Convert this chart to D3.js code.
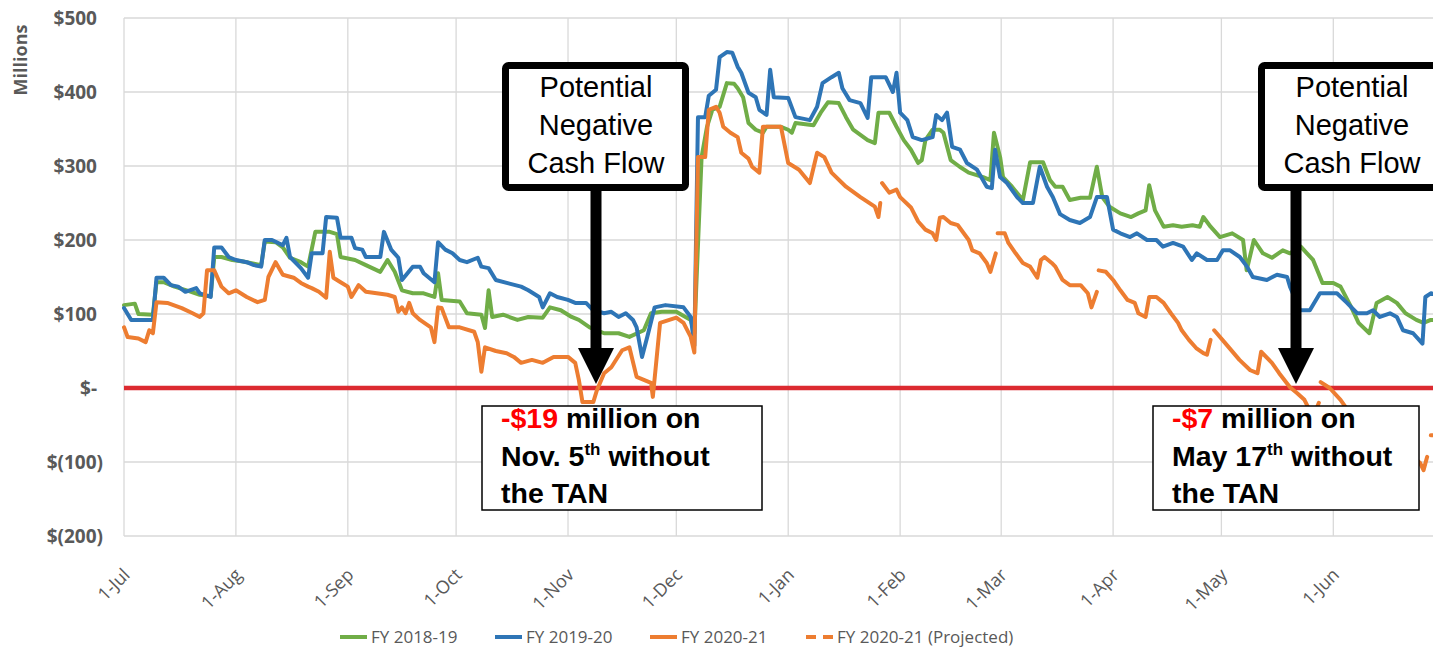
<!DOCTYPE html>
<html><head><meta charset="utf-8">
<script src="https://cdn.jsdelivr.net/npm/d3@7"></script>
<style>body{margin:0;background:#fff}svg{display:block}</style>
</head><body>
<svg id="c" width="1433" height="653"></svg>
<script>
// ---- data: [days since 1-Jul, $ millions] ----
const yTicks = [-200,-100,0,100,200,300,400,500];
const seriesNames = ["FY 2018-19","FY 2019-20","FY 2020-21","FY 2020-21 (Projected)"];
const fy1819 = [[0,112],[3,114],[4,100],[8,99],[9,143],[11,143],[14,137],[18,131],[21,126],[24,124],[25,177],[27,177],[30,173],[33,171],[36,168],[38,166],[39,198],[42,197],[44,190],[46,176],[49,170],[51,164],[53,211],[57,211],[59,208],[60,177],[64,173],[67,166],[71,157],[73,173],[75,157],[77,132],[80,128],[83,128],[86,123],[87,155],[88,119],[93,117],[95,101],[99,99],[100,81],[101,132],[102,96],[105,99],[109,92],[112,96],[116,95],[118,109],[121,105],[124,96],[126,92],[129,82],[133,74],[137,74],[140,69],[144,78],[146,101],[149,103],[153,103],[157,92],[158,74],[160,312],[161.5,353],[163,376],[165,380],[167,412],[169,411],[170,405],[171.5,393],[173,358],[175,349],[177,345],[178,353],[182,353],[184,349],[185,345],[186,358],[191,355],[193,372],[195,386],[198,385],[200,366],[202,349],[206,335],[208,331],[209,372],[212,372],[214,353],[216,335],[218,322],[220,304],[221,308],[222,335],[224,349],[226,349],[227,345],[229,308],[231.5,299],[234,291],[238,285],[240,281],[241,345],[242.7,312],[243.5,285],[246,272],[249,254],[251,305],[254.6,305],[256.5,281],[258,272],[260,272],[262,254],[265,257],[267.6,257],[269.5,299],[271,258],[273,245],[276,236],[279,231],[281,236],[283,240],[284,274],[285.6,240],[288,218],[290.6,220],[293,218],[296,220],[298,218],[299,231],[301,218],[303.6,204],[307,209],[310,200],[311,159],[313,200],[315.5,182],[318,176],[321,186],[323,182],[326,191],[327.7,182],[329.4,173],[332,142],[335,142],[337,137],[340,109],[342,88],[345,74],[347,115],[350,123],[352.6,115],[355,101],[358,92],[360,88],[362,92],[364,92]];
const fy1920 = [[0,108],[2,92],[8,92],[9,149],[11,149],[13,139],[15,137],[17,130],[20,135],[21,128],[24,123],[25,190],[27,190],[29,177],[31,173],[34,170],[36,166],[38,164],[39,200],[41,200],[44,193],[45,203],[46,177],[49,162],[51,149],[52,182],[55,182],[56,231],[59,230],[60,203],[63,203],[64,189],[66,187],[67,177],[71,177],[72,211],[74,187],[76,176],[77,146],[80,164],[82,164],[83,155],[86,143],[87,197],[89,187],[91,182],[93,173],[95,170],[98,176],[99,164],[101,162],[103,146],[106,142],[110,137],[112,132],[115,123],[116,109],[118,128],[120,123],[123,119],[125,115],[128,115],[130,105],[133,101],[135,103],[137,96],[139,101],[141,92],[142,82],[143.5,42],[145,70],[147,109],[150,112],[155,109],[157,96],[158,57],[159,366],[161,366],[162,395],[164,403],[165,447],[167,454],[168.5,453],[170,434],[171,426],[173,399],[175,393],[176,376],[178,369],[179,430],[180,393],[184,392],[186,366],[190,362],[192,380],[193.5,412],[196,420],[198,426],[199,405],[201,389],[204,385],[206,365],[207,420],[211,420],[213,400],[214,426],[215,372],[217,362],[218.5,339],[221,335],[224,339],[225,369],[226.6,362],[228,372],[229.4,326],[231.6,322],[233.5,304],[236.3,295],[239,272],[240.4,270],[241.3,322],[242.7,285],[244.6,277],[247.4,258],[249,250],[251.8,250],[253.7,299],[255.7,272],[257.3,258],[259.3,235],[262,227],[264.8,223],[267.6,231],[269.5,258],[272.3,258],[274,214],[276,209],[278.7,204],[280.6,209],[283.4,200],[286,200],[287.8,191],[290.6,196],[293.4,191],[295.8,173],[297.2,182],[300,173],[302.8,173],[304.4,186],[306.4,186],[309.1,177],[311.1,164],[312.7,150],[316.6,146],[319.4,153],[322.2,150],[323,137],[325.8,105],[328.5,105],[331.3,128],[336,128],[338.8,115],[341.6,101],[344.3,101],[346,105],[347.9,96],[350.7,101],[352.6,96],[354.3,78],[357.1,74],[359.7,60],[360.5,123],[362,128],[364,125]];
const fy2021 = [[0,82],[1,69],[4,67],[6,62],[7,78],[8,74],[9,116],[12,115],[16,108],[19,101],[21,96],[22,101],[23,159],[25,159],[27,137],[29,128],[31,132],[34,123],[37,116],[39,119],[40,150],[42,170],[44,153],[47,149],[49,142],[51,137],[52,135],[54,130],[56,122],[57,184],[58,149],[60,143],[62,137],[63,123],[65,139],[67,130],[70,128],[73,126],[75,123],[76,103],[77,109],[78,101],[79,115],[80,101],[82,92],[85,82],[86,62],[87,109],[88,108],[90,82],[93,82],[97,76],[98,62],[99,22],[100,55],[103,50],[106,47],[108,42],[110,34],[113,38],[116,34],[119,42],[123,42],[125,34],[126,11],[127,-19],[130,-19],[131,-3],[133,20],[135,28],[138,51],[140,55],[142,15],[144,11],[146,7],[146.5,-12],[147.5,38],[148.5,88],[153,95],[155,88],[157,69],[158,48],[159,312],[161,312],[162,376],[164,380],[165,372],[166,353],[168,345],[170,339],[171,318],[173,310],[174,299],[176,291],[177,353],[182,353],[184,304],[187,295],[190,277],[192,318],[194,312],[196,291],[200,272],[204,258],[208,245],[209,231],[209.5,250]];
const fy2021Projected = [[210,277],[212,264],[214,268],[215,258],[218,244],[220,225],[222,214],[224,209],[225,200],[226,230],[227,231],[229,223],[231,220],[234,200],[235,186],[237,182],[239,169],[240,157],[241.5,182],[241.7,null],[242,209],[244,209],[245,196],[247,182],[249,169],[251,164],[253,149],[254,173],[255,177],[257,169],[258,164],[260,146],[262,139],[265,139],[267,128],[268,109],[269.5,130],[269.7,null],[270,159],[272,157],[274,146],[276,132],[278,119],[280,115],[281,101],[283,96],[284,123],[286,123],[288,115],[290,101],[292,88],[293,78],[295,65],[297,54],[299,47],[300,45],[301,65],[301.5,null],[302,78],[305,61],[309,38],[312,24],[314,20],[315,49],[318,34],[320,20],[323,1],[325,-7],[327,-16],[328,-26],[330,-32],[331,-20],[331.2,null],[331.5,8],[334,0],[337,-16],[339,-30],[340,-43],[342,-53],[344,-61],[346,-34],[348,-43],[350,-57],[352,-66],[353,-77],[355,-84],[357,-93],[359,-101],[360,-111],[361,-93],[361.3,null],[362,-64],[364,-64]];
const colors = ["#70ad47","#2e75b6","#ed7d31","#ed7d31"];

// ---- chart ----
const svg = d3.select("#c");
const start = new Date(2020,6,1);
const toDate = d => new Date(start.getTime() + d*86400000);
const x = d3.scaleTime().domain([start, new Date(2021,6,1)]).range([124, 1441.6]);
const y = d3.scaleLinear().domain([-200,500]).range([536,18]);
const months = d3.timeMonth.range(start, new Date(2021,5,2));
const grey = "#595959";

// gridlines
svg.append("g").selectAll("line").data(yTicks).join("line")
  .attr("x1",124).attr("x2",1433).attr("y1",d=>y(d)).attr("y2",d=>y(d))
  .attr("stroke","#d9d9d9").attr("stroke-width",1.3);
svg.append("g").selectAll("line").data(months).join("line")
  .attr("x1",d=>x(d)).attr("x2",d=>x(d)).attr("y1",y(500)).attr("y2",y(-200))
  .attr("stroke","#d9d9d9").attr("stroke-width",1.3);

// y tick labels
const fmt = v => v===0 ? "$-" : v>0 ? "$"+v : "$("+(-v)+")";
svg.append("g").selectAll("text").data(yTicks).join("text")
  .attr("x",d=>d<0?103:97).attr("y",d=>y(d)).attr("dy","0.36em")
  .attr("text-anchor","end").attr("fill",grey)
  .style("font-family","'Open Sans'").style("font-weight",700).style("font-size","19px")
  .text(fmt);
svg.append("text").attr("transform","translate(27,60) rotate(-90)")
  .attr("text-anchor","middle").attr("fill",grey)
  .style("font-family","'Open Sans'").style("font-weight",700).style("font-size","18px")
  .text("Millions");

// x tick labels
const mfmt = d3.timeFormat("%-d-%b");
svg.append("g").selectAll("text").data(months).join("text")
  .attr("transform",d=>`translate(${x(d)+7},576) rotate(-45)`)
  .attr("text-anchor","end").attr("fill",grey)
  .style("font-family","'Open Sans'").style("font-size","18px")
  .text(mfmt);

// zero line
svg.append("line").attr("x1",124).attr("x2",1433).attr("y1",y(0)).attr("y2",y(0))
  .attr("stroke","#dc2a30").attr("stroke-width",4.5);

// series
const line = d3.line().defined(d=>d[1]!==null).x(d=>x(toDate(d[0]))).y(d=>y(d[1]));
[fy1819,fy1920,fy2021,fy2021Projected].forEach((s,i)=>{
  svg.append("path").datum(s).attr("d",line).attr("fill","none")
    .attr("stroke",colors[i]).attr("stroke-width",4)
    .attr("stroke-linejoin","round").attr("stroke-linecap","round");
});

// legend
const legX = [340,495,650,806];
const lg = svg.append("g");
seriesNames.forEach((n,i)=>{
  const g = lg.append("g").attr("transform",`translate(${legX[i]},637)`);
  const l = g.append("line").attr("x1",0).attr("x2",27).attr("stroke",colors[i]).attr("stroke-width",4);
  if(i===3) l.attr("stroke-dasharray","10,7");
  g.append("text").attr("x",31).attr("dy","0.36em").attr("fill",grey)
    .style("font-family","'Open Sans'").style("font-size","17px").text(n);
});

// annotations
function callout(cx, boxLeft, arrowX){
  const g = svg.append("g");
  g.append("line").attr("x1",arrowX).attr("x2",arrowX).attr("y1",188).attr("y2",350)
    .attr("stroke","#000").attr("stroke-width",11);
  g.append("path").attr("d",`M${arrowX-18},348 L${arrowX+18},348 L${arrowX},384 Z`).attr("fill","#000");
  g.append("rect").attr("x",boxLeft+3.5).attr("y",65.5).attr("width",180).attr("height",122)
    .attr("rx",3).attr("fill","#fff").attr("stroke","#000").attr("stroke-width",7);
  ["Potential","Negative","Cash Flow"].forEach((t,i)=>{
    g.append("text").attr("x",cx).attr("y",97+i*38).attr("text-anchor","middle")
      .style("font-family","'Liberation Sans', Arial").style("font-size","29px").text(t);
  });
}
callout(596,502,596);
callout(1352,1258,1296);

function note(left, right, amt, date, sup){
  const g = svg.append("g");
  g.append("rect").attr("x",left).attr("y",406).attr("width",right-left).attr("height",104)
    .attr("fill","#fff").attr("stroke","#000").attr("stroke-width",1.5);
  const st = t => t.style("font-family","'Liberation Sans', Arial").style("font-weight",700).style("font-size","28.5px");
  const t1 = st(g.append("text").attr("x",left+19).attr("y",428));
  t1.append("tspan").attr("fill","#ff0000").text(amt);
  t1.append("tspan").text(" million on");
  const t2 = st(g.append("text").attr("x",left+19).attr("y",466));
  t2.append("tspan").text(date);
  t2.append("tspan").attr("dy",-11).style("font-size","17px").text(sup);
  t2.append("tspan").attr("dy",11).text(" without");
  st(g.append("text").attr("x",left+19).attr("y",503)).text("the TAN");
}
note(482,762,"-$19","Nov. 5","th");
note(1153,1419,"-$7","May 17","th");
</script>
</body></html>
